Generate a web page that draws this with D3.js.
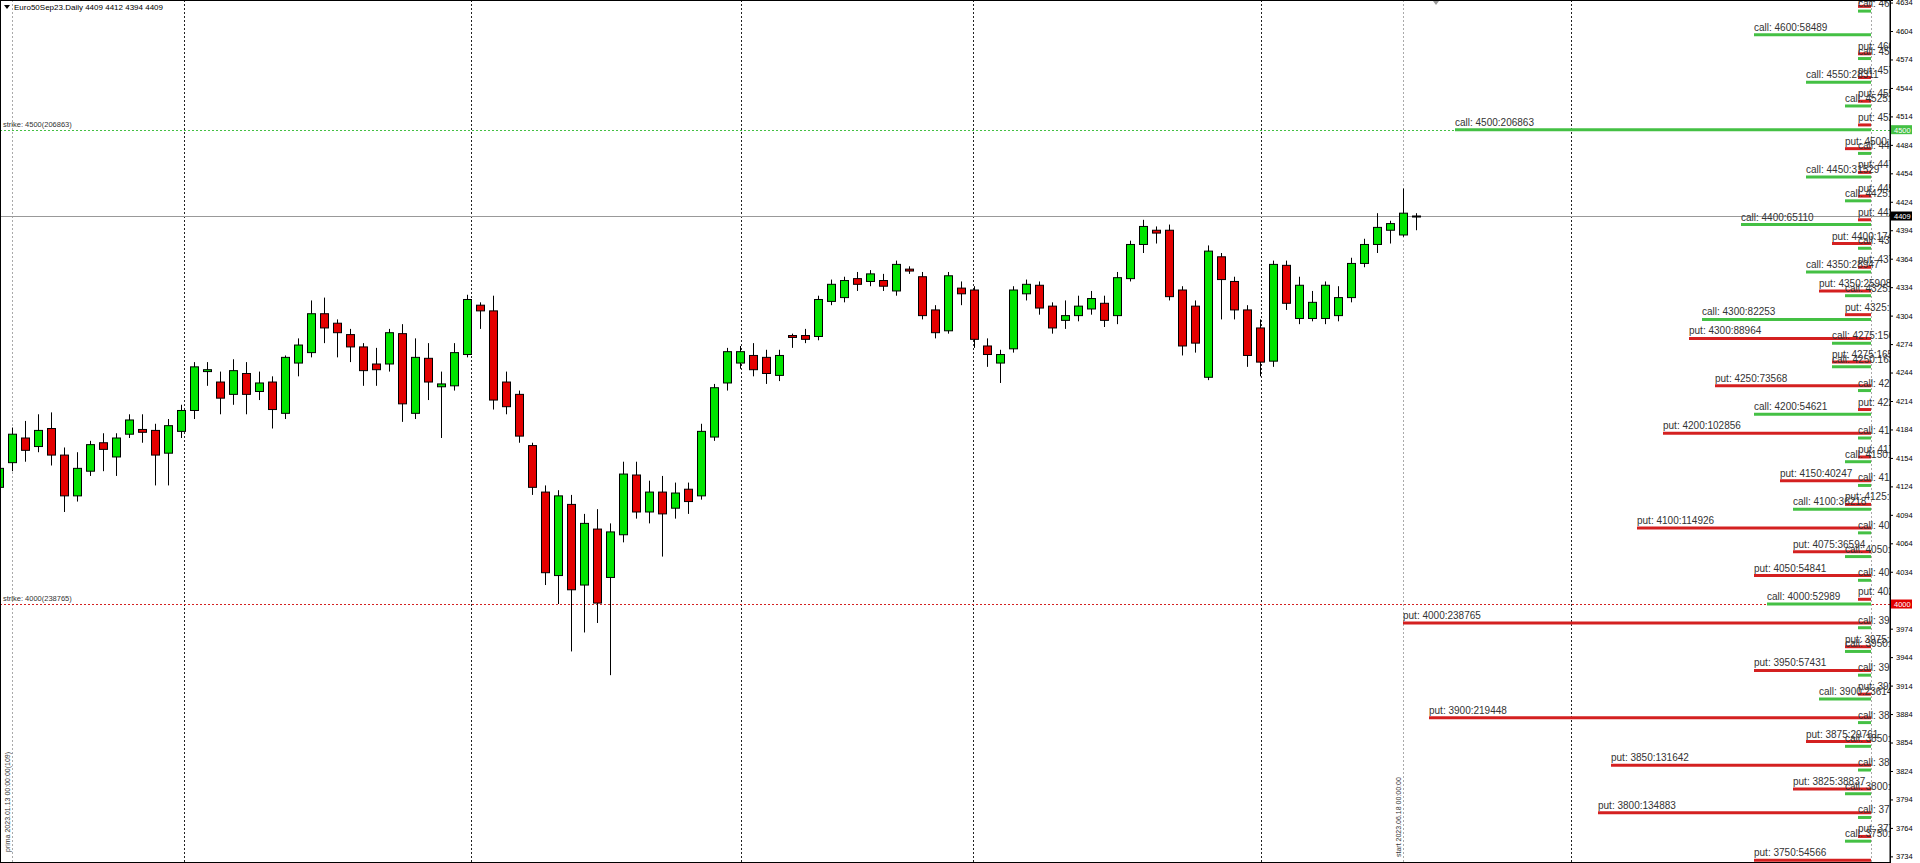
<!DOCTYPE html>
<html><head><meta charset="utf-8">
<script src="https://cdn.jsdelivr.net/npm/d3@7"></script>
<style>
html,body{margin:0;padding:0;background:#fff;overflow:hidden}
svg{display:block}
text{font-family:"Liberation Sans",Arial,sans-serif}
</style>
</head><body>
<svg id="chart" width="1920" height="863"></svg>
<script>
// ---------- DATA ----------
const symbolTitle = "Euro50Sep23.Daily";
const lastQuote = [4409, 4412, 4394, 4409];
const firstBar = -1; // index of first candle relative to "prima"
const opens  = [4123,4149,4175,4166,4185,4157,4114,4140,4170,4155,4179,4184,4183,4159,4182,4204,4245,4234,4221,4243,4224,4234,4201,4254,4265,4306,4296,4284,4271,4253,4253,4285,4201,4259,4229,4230,4263,4315,4309,4234,4221,4167,4118,4030,4105,4020,4079,4028,4073,4136,4097,4118,4101,4121,4114,4176,4233,4254,4262,4260,4241,4283,4283,4282,4319,4323,4343,4340,4341,4330,4353,4345,4310,4288,4333,4331,4272,4254,4269,4327,4336,4314,4299,4304,4311,4317,4304,4343,4379,4394,4394,4331,4314,4239,4366,4340,4310,4291,4256,4357,4301,4301,4301,4304,4323,4359,4379,4394,4389,4409];
const highs  = [4150,4186,4193,4200,4202,4165,4160,4172,4180,4180,4200,4200,4190,4195,4210,4255,4255,4245,4258,4255,4245,4240,4262,4280,4320,4323,4300,4290,4275,4270,4290,4295,4280,4275,4245,4275,4326,4318,4325,4245,4225,4170,4125,4120,4115,4095,4100,4085,4150,4150,4130,4135,4128,4128,4190,4232,4270,4272,4275,4268,4268,4285,4290,4325,4342,4345,4350,4352,4348,4362,4356,4350,4315,4350,4340,4335,4280,4268,4335,4342,4340,4318,4320,4325,4330,4325,4350,4383,4405,4398,4400,4335,4320,4378,4370,4345,4315,4300,4362,4362,4345,4330,4340,4335,4365,4385,4412,4404,4438,4412];
const lows   = [4112,4140,4150,4160,4146,4097,4108,4135,4140,4135,4175,4170,4125,4125,4175,4195,4230,4200,4210,4200,4215,4185,4195,4240,4260,4275,4260,4255,4230,4230,4245,4192,4195,4215,4175,4225,4260,4290,4205,4200,4170,4115,4020,4000,3950,3970,3980,3925,4065,4090,4085,4050,4090,4095,4110,4172,4225,4248,4240,4232,4235,4270,4275,4278,4315,4318,4330,4335,4330,4325,4348,4300,4280,4285,4315,4270,4250,4233,4265,4320,4305,4285,4290,4298,4305,4292,4295,4340,4370,4380,4320,4262,4265,4236,4300,4300,4250,4240,4250,4310,4295,4298,4295,4298,4318,4355,4370,4380,4387,4394];
const closes = [4143,4179,4162,4183,4157,4114,4143,4168,4163,4175,4194,4181,4157,4188,4204,4250,4247,4217,4246,4221,4233,4205,4260,4273,4306,4291,4286,4271,4246,4247,4286,4211,4260,4234,4232,4265,4321,4309,4215,4208,4177,4123,4033,4114,4015,4085,4001,4076,4137,4097,4118,4095,4117,4108,4182,4228,4266,4266,4247,4243,4262,4281,4279,4321,4337,4341,4337,4348,4335,4358,4351,4304,4286,4346,4327,4279,4263,4263,4331,4337,4312,4291,4304,4314,4322,4299,4344,4379,4398,4391,4324,4272,4275,4372,4342,4310,4262,4255,4358,4317,4336,4318,4336,4323,4359,4379,4397,4401,4412,4409];

const strikes = [4650,4625,4600,4575,4550,4525,4500,4475,4450,4425,4400,4375,4350,4325,4300,4275,4250,4225,4200,4175,4150,4125,4100,4075,4050,4025,4000,3975,3950,3925,3900,3875,3850,3825,3800,3775,3750];
const callOI  = [0,5210,58489,4120,28311,11042,206863,3215,31529,10317,65110,5872,28947,12418,82253,15068,16300,6018,54621,4887,9642,5504,36218,6207,12733,3941,52989,2580,8316,3107,23614,2004,9051,1776,10402,1203,7985];
const putOI   = [2314,0,3627,4956,5118,6020,11842,4710,6135,5933,17426,6288,25908,12674,88964,16552,73568,5374,102856,4652,40247,8847,114926,36594,54841,5722,238765,9518,57431,4108,219448,29761,131642,38837,134883,3411,54566];

const priceTicks = [3734,3764,3794,3824,3854,3884,3914,3944,3974,4034,4064,4094,4124,4154,4184,4214,4244,4274,4304,4334,4364,4394,4424,4454,4484,4514,4544,4574,4604,4634];
const monthSeparators = [13.2, 35.3, 56.1, 73.9, 96.1, 119.9]; // bar positions
const markerBars = {prima: 0, start: 107, ultim: 143};
const primaLabel = "prima 2023.01.13 00:00:00(109)";
const startLabel = "start 2023.06.18 00:00:00";
const strikeLevels = [{label:"strike: 4500(206863)", price:4500, kind:"call"},
                      {label:"strike: 4000(238765)", price:4000, kind:"put"}];
const putShift = 20;     // put levels are drawn 20 points under the strike
const oiPerBar = 6640;   // open interest represented by one bar of line length

// ---------- SCALES ----------
const W = 1920, H = 863, plotR = 1890;
const x = d3.scaleLinear().domain([0, 1]).range([12, 25]);
const y = d3.scaleLinear().domain([3727, 4636.7]).range([H, 0]);

const COL = {call:"#44c044", put:"#d42020", bull:"#00e400", bear:"#e40000"};

const svg = d3.select("#chart");
svg.append("defs").append("clipPath").attr("id","plot")
  .append("rect").attr("x",0).attr("y",0).attr("width",plotR).attr("height",H);

const plot = svg.append("g").attr("clip-path","url(#plot)");

// month separators
plot.selectAll("line.sep").data(monthSeparators).join("line")
  .attr("x1",d=>Math.round(x(d))+0.5).attr("x2",d=>Math.round(x(d))+0.5).attr("y1",0).attr("y2",H)
  .attr("stroke","#222").attr("stroke-width",1).attr("stroke-dasharray","2,2");

// prima / start / ultim markers
plot.selectAll("line.mark").data(Object.values(markerBars)).join("line")
  .attr("x1",d=>Math.round(x(d))+0.5).attr("x2",d=>Math.round(x(d))+0.5).attr("y1",0).attr("y2",H)
  .attr("stroke","#aaa").attr("stroke-width",1).attr("stroke-dasharray","2,2");

// strike dotted levels
plot.selectAll("line.strike").data(strikeLevels).join("line")
  .attr("x1",0).attr("x2",plotR).attr("y1",d=>Math.round(y(d.price))+0.5).attr("y2",d=>Math.round(y(d.price))+0.5)
  .attr("stroke",d=>COL[d.kind]).attr("stroke-width",1).attr("stroke-dasharray","2,2");
plot.selectAll("text.strike").data(strikeLevels).join("text")
  .attr("x",3).attr("y",d=>y(d.price)-3).attr("font-size",7.5).attr("fill","#333").text(d=>d.label);

// current price line
plot.append("line").attr("x1",0).attr("x2",plotR)
  .attr("y1",Math.round(y(lastQuote[3]))+0.5).attr("y2",Math.round(y(lastQuote[3]))+0.5)
  .attr("stroke","#999").attr("stroke-width",1);

// candles
const candles = opens.map((o,k)=>({i:firstBar+k,o,h:highs[k],l:lows[k],c:closes[k]}));
const cg = plot.append("g");
cg.selectAll("line.wick").data(candles).join("line")
  .attr("x1",d=>Math.round(x(d.i))+0.5).attr("x2",d=>Math.round(x(d.i))+0.5)
  .attr("y1",d=>y(d.h)).attr("y2",d=>y(d.l)).attr("stroke","#000").attr("stroke-width",1);
cg.selectAll("rect.body").data(candles).join("rect")
  .attr("x",d=>Math.round(x(d.i))-3.5).attr("width",8)
  .attr("y",d=>y(Math.max(d.o,d.c))).attr("height",d=>Math.max(1,Math.abs(y(d.o)-y(d.c))))
  .attr("fill",d=>d.c>=d.o?COL.bull:COL.bear).attr("stroke","#000").attr("stroke-width",1);

// options open-interest lines
const opts = [];
strikes.forEach((s,k)=>{
  if (callOI[k]>0) opts.push({kind:"call",strike:s,oi:callOI[k],level:s});
  if (putOI[k]>0)  opts.push({kind:"put", strike:s,oi:putOI[k], level:s-putShift});
});
opts.forEach(d=>{ d.bars = Math.ceil(d.oi/oiPerBar); d.x1 = x(markerBars.ultim - d.bars); d.x2 = x(markerBars.ultim); });
const og = plot.append("g");
og.selectAll("line").data(opts).join("line")
  .attr("x1",d=>d.x1).attr("x2",d=>d.x2).attr("y1",d=>y(d.level)).attr("y2",d=>y(d.level))
  .attr("stroke",d=>COL[d.kind]).attr("stroke-width",3);
og.selectAll("text").data(opts).join("text")
  .attr("x",d=>d.x1).attr("y",d=>y(d.level)-4).attr("font-size",10).attr("fill","#333")
  .text(d=>`${d.kind}: ${d.strike}:${d.oi}`);

// vertical marker labels
plot.append("text").attr("transform",`translate(${x(markerBars.prima)-2},852) rotate(-90)`)
  .attr("font-size",7).attr("fill","#333").text(primaLabel);
plot.append("text").attr("transform",`translate(${x(markerBars.start)-2},857) rotate(-90)`)
  .attr("font-size",7).attr("fill","#333").text(startLabel);

// chart-shift marker
svg.append("path").attr("d",`M${x(109)+4},1 l6,0 l-3,4 z`).attr("fill","#999");

// title
svg.append("path").attr("d","M4,5 l6,0 l-3,4 z").attr("fill","#000");
svg.append("text").attr("x",14).attr("y",10).attr("font-size",8).attr("fill","#000")
  .text(`${symbolTitle}  ${lastQuote.join(" ")}`);

// frame
svg.append("rect").attr("x",0.5).attr("y",0.5).attr("width",plotR-0.5).attr("height",H-1)
  .attr("fill","none").attr("stroke","#000");

// price axis
const axis = d3.axisRight(y).tickValues(priceTicks).tickSize(3).tickFormat(d3.format("d"));
const ag = svg.append("g").attr("transform",`translate(${plotR},0)`).call(axis);
ag.select(".domain").attr("stroke","#000");
ag.selectAll("text").attr("font-size",7.5).attr("fill","#000").attr("font-family","Liberation Sans, Arial, sans-serif");

// highlighted price labels
const boxes = [{price:4500,fill:COL.call,color:"#fff"},{price:lastQuote[3],fill:"#000",color:"#fff"},{price:4000,fill:"#e00000",color:"#fff"}];
const bg = svg.append("g");
bg.selectAll("rect").data(boxes).join("rect")
  .attr("x",plotR+1).attr("y",d=>y(d.price)-4.5).attr("width",21).attr("height",9).attr("fill",d=>d.fill);
bg.selectAll("text").data(boxes).join("text")
  .attr("x",plotR+4).attr("y",d=>y(d.price)+3).attr("font-size",7.5).attr("fill",d=>d.color).text(d=>d.price);
</script>
</body></html>
